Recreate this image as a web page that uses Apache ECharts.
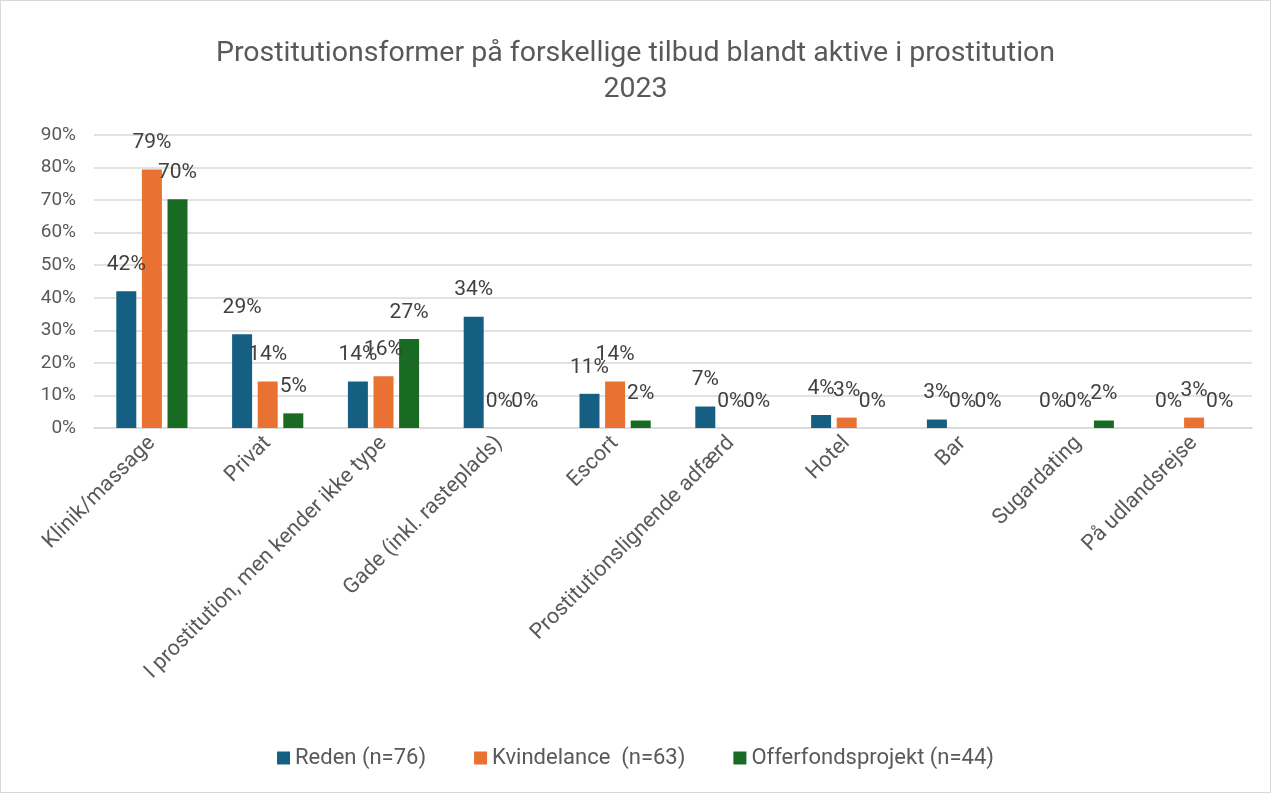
<!DOCTYPE html>
<html>
<head>
<meta charset="utf-8">
<script src="https://cdn.jsdelivr.net/npm/echarts@6/dist/echarts.min.js"></script>
<style>
  html, body { margin: 0; padding: 0; background: #fff; }
  #chart { width: 1269px; height: 791px; border: 1px solid #d9d9d9; }
</style>
</head>
<body>
<div id="chart"></div>
<script>
// categories and values (percent)
const categories = ['Klinik/massage', 'Privat', 'I prostitution, men kender ikke type',
  'Gade (inkl. rasteplads)', 'Escort', 'Prostitutionslignende adfærd', 'Hotel', 'Bar',
  'Sugardating', 'På udlandsrejse'];
const reden = [42, 28.8, 14.3, 34.2, 10.5, 6.6, 4, 2.6, 0, 0];
const kvindelance = [79.4, 14.3, 15.9, 0, 14.3, 0, 3.2, 0, 0, 3.2];
const offerfonds = [70.3, 4.5, 27.3, 0, 2.3, 0, 0, 0, 2.3, 0];
const yTicks = [0, 10, 20, 30, 40, 50, 60, 70, 80, 90];

const chart = echarts.init(document.getElementById('chart'));

function makeSeries(name, data, color) {
  return {
    name: name,
    type: 'bar',
    data: data,
    barWidth: 20,
    barGap: '28%',
    itemStyle: { color: color },
    label: {
      show: true,
      position: 'top',
      distance: 16,
      color: '#404040',
      fontSize: 21,
      formatter: function (p) { return Math.round(p.value) + '%'; }
    }
  };
}

const option = {
  animation: false,
  textStyle: { fontFamily: 'Roboto' },
  title: {
    text: 'Prostitutionsformer på forskellige tilbud blandt aktive i prostitution\n2023',
    left: 'center',
    top: 30,
    textStyle: { color: '#595959', fontSize: 28.5, fontWeight: 'normal', lineHeight: 36 }
  },
  legend: {
    bottom: 18,
    itemWidth: 13,
    itemHeight: 13,
    itemGap: 48,
    icon: 'rect',
    textStyle: { color: '#595959', fontSize: 22 },
    data: ['Reden (n=76)', 'Kvindelance  (n=63)', 'Offerfondsprojekt (n=44)']
  },
  grid: { left: 93, right: 18, top: 134, bottom: 364 },
  xAxis: {
    type: 'category',
    data: categories,
    axisTick: { show: false },
    axisLine: { lineStyle: { color: '#d9d9d9', width: 1.5 } },
    axisLabel: { rotate: 45, interval: 0, color: '#595959', fontSize: 21.5, margin: 12 }
  },
  yAxis: {
    type: 'value',
    min: yTicks[0],
    max: yTicks[yTicks.length - 1],
    interval: 10,
    axisLine: { show: false },
    axisTick: { show: false },
    splitLine: { lineStyle: { color: '#d9d9d9', width: 1.5 } },
    axisLabel: { color: '#595959', fontSize: 19, margin: 18, formatter: '{value}%' }
  },
  series: [
    makeSeries('Reden (n=76)', reden, '#156082'),
    makeSeries('Kvindelance  (n=63)', kvindelance, '#e97132'),
    makeSeries('Offerfondsprojekt (n=44)', offerfonds, '#196b24')
  ]
};

chart.setOption(option);
</script>
</body>
</html>
